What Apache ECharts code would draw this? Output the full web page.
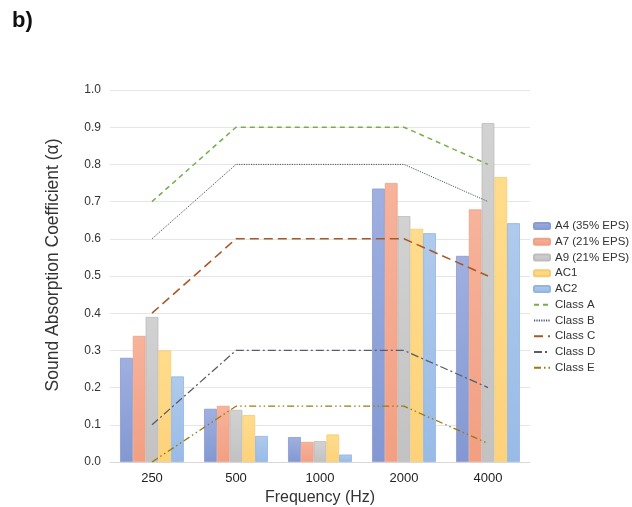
<!DOCTYPE html>
<html>
<head>
<meta charset="utf-8">
<script src="https://cdn.jsdelivr.net/npm/echarts@6/dist/echarts.min.js"></script>
<style>
  html, body { margin: 0; padding: 0; background: #fff; }
  #chart { width: 632px; height: 507px; }
</style>
</head>
<body>
<div id="chart"></div>
<script>
// Frequency bands (Hz)
const categories = ['250', '500', '1000', '2000', '4000'];

// Measured absorption coefficients per sample
const a4  = [0.28, 0.143, 0.067, 0.735, 0.554];
const a7  = [0.339, 0.151, 0.054, 0.75, 0.679];
const a9  = [0.39, 0.14, 0.056, 0.661, 0.911];
const ac1 = [0.30, 0.126, 0.074, 0.627, 0.766];
const ac2 = [0.23, 0.07, 0.02, 0.615, 0.642];

// Reference curves for absorption classes
const classA = [0.7, 0.9, 0.9, 0.9, 0.8];
const classB = [0.6, 0.8, 0.8, 0.8, 0.7];
const classC = [0.4, 0.6, 0.6, 0.6, 0.5];
const classD = [0.1, 0.3, 0.3, 0.3, 0.2];
const classE = [0.0, 0.15, 0.15, 0.15, 0.05];

const yTicks = ['0.0', '0.1', '0.2', '0.3', '0.4', '0.5', '0.6', '0.7', '0.8', '0.9', '1.0'];

const FONT = '"Liberation Sans", Arial, sans-serif';

function grad(top, bottom) {
  return new echarts.graphic.LinearGradient(0, 0, 0, 1, [
    { offset: 0, color: top },
    { offset: 1, color: bottom }
  ]);
}

function barSeries(name, data, top, bottom, border) {
  return {
    name: name,
    type: 'bar',
    data: data,
    barGap: '0%',
    barCategoryGap: '24%',
    itemStyle: { color: grad(top, bottom), borderColor: border, borderWidth: 0.8 }
  };
}

function lineSeries(name, data, color, dash, width) {
  return {
    name: name,
    type: 'line',
    data: data,
    symbol: 'none',
    z: 5,
    lineStyle: { color: color, width: width, type: dash },
    itemStyle: { color: color }
  };
}

// Legend entries for the class curves show only a short line
function lineLegend(name) {
  return { name: name, itemStyle: { opacity: 0 } };
}

const chart = echarts.init(document.getElementById('chart'), null, { renderer: 'canvas' });

chart.setOption({
  backgroundColor: '#ffffff',
  animation: false,
  textStyle: { fontFamily: FONT },
  graphic: [{
    type: 'text',
    left: 12,
    top: 10,
    style: { text: 'b)', font: 'bold 22px ' + FONT, fill: '#111' }
  }],
  grid: { left: 110, right: 102, top: 90, bottom: 45, outerBoundsMode: 'none', containLabel: false },
  legend: {
    orient: 'vertical',
    left: 533,
    top: 220,
    padding: 0,
    itemWidth: 16,
    itemHeight: 6,
    itemGap: 3.75,
    textStyle: { fontSize: 11.5, color: '#333', fontFamily: FONT },
    data: ['A4 (35% EPS)', 'A7 (21% EPS)', 'A9 (21% EPS)', 'AC1', 'AC2',
           lineLegend('Class A'), lineLegend('Class B'), lineLegend('Class C'),
           lineLegend('Class D'), lineLegend('Class E')]
  },
  xAxis: {
    type: 'category',
    data: categories,
    name: 'Frequency (Hz)',
    nameLocation: 'middle',
    nameGap: 25,
    nameTextStyle: { fontSize: 16, color: '#333', fontFamily: FONT },
    axisLine: { show: true, lineStyle: { color: '#d9d9d9' } },
    axisTick: { show: false },
    axisLabel: { fontSize: 13, color: '#222', margin: 10, fontFamily: FONT }
  },
  yAxis: {
    type: 'value',
    min: 0,
    max: 1,
    interval: 0.1,
    name: 'Sound Absorption Coefficient (α)',
    nameLocation: 'middle',
    nameGap: 48,
    nameTextStyle: { fontSize: 17.5, color: '#333', fontFamily: FONT, padding: [0, 0, 0, 22] },
    axisLine: { show: false },
    axisTick: { show: false },
    splitLine: { lineStyle: { color: '#e6e6e6' } },
    axisLabel: {
      fontSize: 12,
      color: '#333',
      margin: 9,
      fontFamily: FONT,
      formatter: function (v) { return yTicks[Math.round(v * 10)]; }
    }
  },
  series: [
    barSeries('A4 (35% EPS)', a4, '#9fb0e0', '#8398d2', '#8a9bd0'),
    barSeries('A7 (21% EPS)', a7, '#f7b39b', '#f29f82', '#eea186'),
    barSeries('A9 (21% EPS)', a9, '#d2d2d2', '#c2c2c2', '#bdbdbd'),
    barSeries('AC1', ac1, '#ffdc8c', '#fdd27a', '#f5cc70'),
    barSeries('AC2', ac2, '#afcaec', '#98bbe6', '#93b5e0'),
    lineSeries('Class A', classA, '#77ad4b', [5, 4], 1.5),
    lineSeries('Class B', classB, '#4b5470', [1.2, 1.2], 1),
    lineSeries('Class C', classC, '#a9582a', [9, 5], 1.6),
    lineSeries('Class D', classD, '#5a5c68', [8, 3, 2, 3], 1.3),
    lineSeries('Class E', classE, '#9a7b10', [7, 3, 1.5, 3, 1.5, 3], 1.3)
  ]
});
</script>
</body>
</html>
